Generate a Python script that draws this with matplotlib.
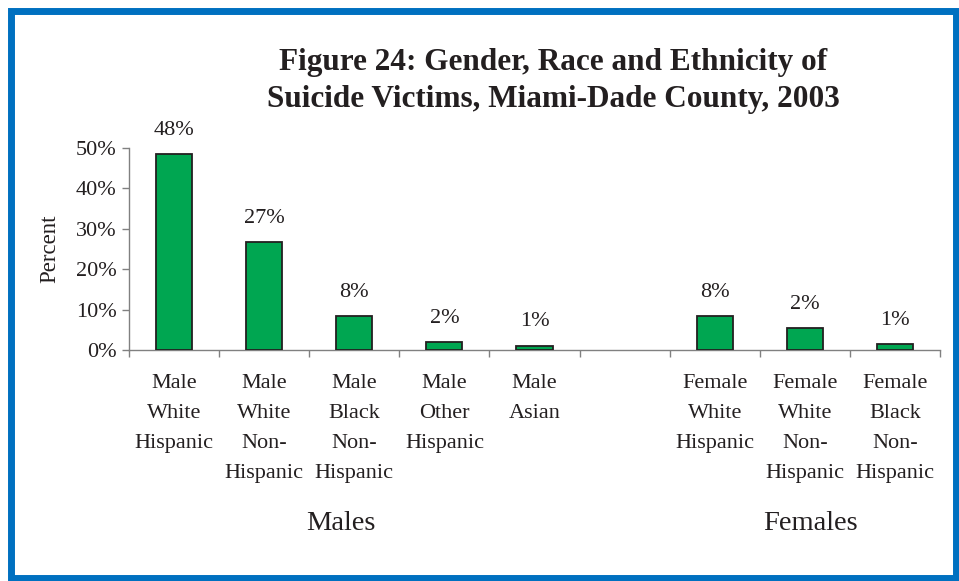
import numpy as np
import matplotlib.pyplot as plt
from matplotlib.patches import Rectangle

categories = ["Male\nWhite\nHispanic", "Male\nWhite\nNon-\nHispanic", "Male\nBlack\nNon-\nHispanic",
              "Male\nOther\nHispanic", "Male\nAsian", "",
              "Female\nWhite\nHispanic", "Female\nWhite\nNon-\nHispanic", "Female\nBlack\nNon-\nHispanic"]
values = [48.5, 26.7, 8.4, 2.0, 1.1, 0.0, 8.5, 5.5, 1.5]
value_labels = ["48%", "27%", "8%", "2%", "1%", "", "8%", "2%", "1%"]
yticks = [0, 10, 20, 30, 40, 50]
group_names = ["Males", "Females"]

TEXT_COLOR = "#231F20"
BAR_COLOR = "#00A651"
AXIS_COLOR = "#808080"

plt.rcParams["font.family"] = ["Liberation Serif", "DejaVu Serif"]

fig = plt.figure(figsize=(9.59, 5.81), dpi=100)
ax = fig.add_axes([129 / 959, 1 - 350 / 581, (940 - 129) / 959, (350 - 148) / 581])

x_ = np.arange(len(categories))
# the empty slot between males and females gets no bar
drawn = [i for i, lab in enumerate(value_labels) if lab]
ax.bar(x_[drawn], [values[i] for i in drawn], width=0.4, color=BAR_COLOR,
       edgecolor="#231F20", linewidth=1.3, zorder=3)

# value labels above the bars
for i in drawn:
    ax.annotate(value_labels[i], (x_[i], values[i]), xytext=(0, 17), textcoords="offset points",
                ha="center", va="center", fontsize=16, color=TEXT_COLOR, clip_on=False)

ax.set_xlim(-0.5, len(categories) - 0.5)
ax.set_ylim(0, 50)
ax.set_yticks(yticks)
ax.set_yticklabels([f"{t}%" for t in yticks], fontsize=16, color=TEXT_COLOR)
ax.set_xticks(x_)
ax.set_xticklabels(categories, fontsize=16, color=TEXT_COLOR, linespacing=1.77)
ax.set_xticks(np.arange(-0.5, len(categories)), minor=True)
ax.tick_params(axis="x", which="major", length=0, pad=17.5)
ax.tick_params(axis="x", which="minor", length=5, width=1, color=AXIS_COLOR)
ax.tick_params(axis="y", length=5, width=1, color=AXIS_COLOR, pad=4)

for side in ["top", "right"]:
    ax.spines[side].set_visible(False)
for side in ["left", "bottom"]:
    ax.spines[side].set_color(AXIS_COLOR)
    ax.spines[side].set_linewidth(1)

ax.set_ylabel("Percent", fontsize=16.5, color=TEXT_COLOR)
ax.yaxis.set_label_coords(-0.085, 0.5)

# title
fig.text(553 / 959, 1 - 81 / 581, "Figure 24: Gender, Race and Ethnicity of\nSuicide Victims, Miami-Dade County, 2003",
         ha="center", va="center", fontsize=22.5, fontweight="bold", color=TEXT_COLOR, linespacing=1.35)

# group labels
fig.text(341 / 959, 1 - 523 / 581, group_names[0], ha="center", va="center", fontsize=20.5, color=TEXT_COLOR)
fig.text(810 / 959, 1 - 523 / 581, group_names[1], ha="center", va="center", fontsize=20.5, color=TEXT_COLOR)

# blue frame
fig.patches.append(Rectangle((10.5 / 959, 3.5 / 581), (955.5 - 10.5) / 959, (577.5 - 10.5) / 581,
                             transform=fig.transFigure, fill=False, edgecolor="#0070C0", linewidth=5))

fig.savefig("out.png", dpi=100)
